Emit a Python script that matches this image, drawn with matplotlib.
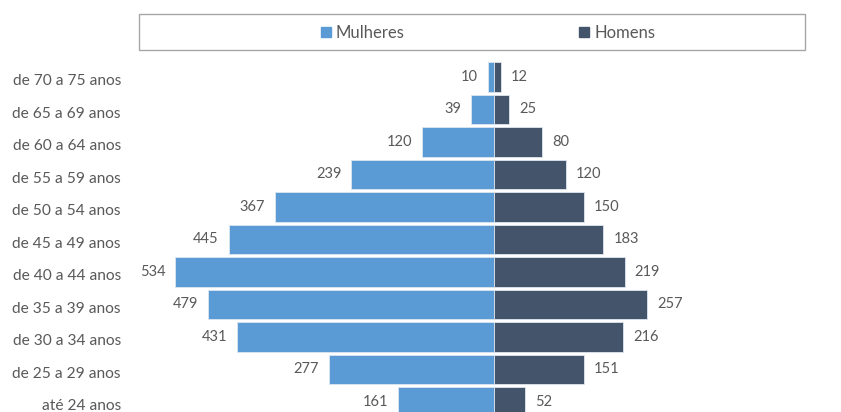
import matplotlib
matplotlib.use("Agg")
import matplotlib.pyplot as plt
from matplotlib.patches import Rectangle, Patch
import matplotlib.transforms as mtransforms

categories = ["até 24 anos", "de 25 a 29 anos", "de 30 a 34 anos", "de 35 a 39 anos",
              "de 40 a 44 anos", "de 45 a 49 anos", "de 50 a 54 anos", "de 55 a 59 anos",
              "de 60 a 64 anos", "de 65 a 69 anos", "de 70 a 75 anos"]
mulheres = [161, 277, 431, 479, 534, 445, 367, 239, 120, 39, 10]
homens = [52, 151, 216, 257, 219, 183, 150, 120, 80, 25, 12]

c_w = "#5B9BD5"
c_m = "#44546A"
txt = "#595959"
font = "Lato"

W, H = 841, 412
fig = plt.figure(figsize=(W/100, H/100), dpi=100)
ax = fig.add_axes([139/W, 0, (805-139)/W, (412-60)/H])

y = list(range(len(categories)))
ax.barh(y, [-v for v in mulheres], height=0.92, color=c_w, edgecolor="#DDE6F0", linewidth=0.6)
ax.barh(y, homens, height=0.92, color=c_m, edgecolor="#DDE6F0", linewidth=0.6)

ax.set_xlim(-595, 521)
ax.set_ylim(-0.3077, 10.523)

for i, (w, m) in enumerate(zip(mulheres, homens)):
    ax.annotate(str(w), (-w, i), xytext=(-10, 0), textcoords="offset pixels",
                ha="right", va="center", fontsize=10.5, color=txt, family=font)
    ax.annotate(str(m), (m, i), xytext=(10, 0), textcoords="offset pixels",
                ha="left", va="center", fontsize=10.5, color=txt, family=font)

ax.set_yticks(y)
ax.set_yticklabels(categories, fontsize=11.2, color=txt, family=font)
ax.tick_params(axis="y", length=0, pad=13)
off = mtransforms.ScaledTranslation(0, -3/100, fig.dpi_scale_trans)
for lab in ax.get_yticklabels():
    lab.set_transform(lab.get_transform() + off)
ax.set_xticks([])
for s in ax.spines.values():
    s.set_visible(False)

# legend frame
fig.patches.append(Rectangle((139/W, 1-50/H), (805-139)/W, 36/H, transform=fig.transFigure,
                             fill=False, edgecolor="#A6A6A6", linewidth=1.0))
handles = [Patch(color=c_w, label="Mulheres"), Patch(color=c_m, label="Homens")]
leg = fig.legend(handles=handles, loc="center", bbox_to_anchor=(488/W, 1-33/H), ncol=2,
                 frameon=False, handlelength=0.6, handleheight=0.6,
                 handletextpad=0.3, columnspacing=10.5,
                 prop={"family": font, "size": 12})
for t in leg.get_texts():
    t.set_color(txt)

fig.savefig("out.png", dpi=100)
